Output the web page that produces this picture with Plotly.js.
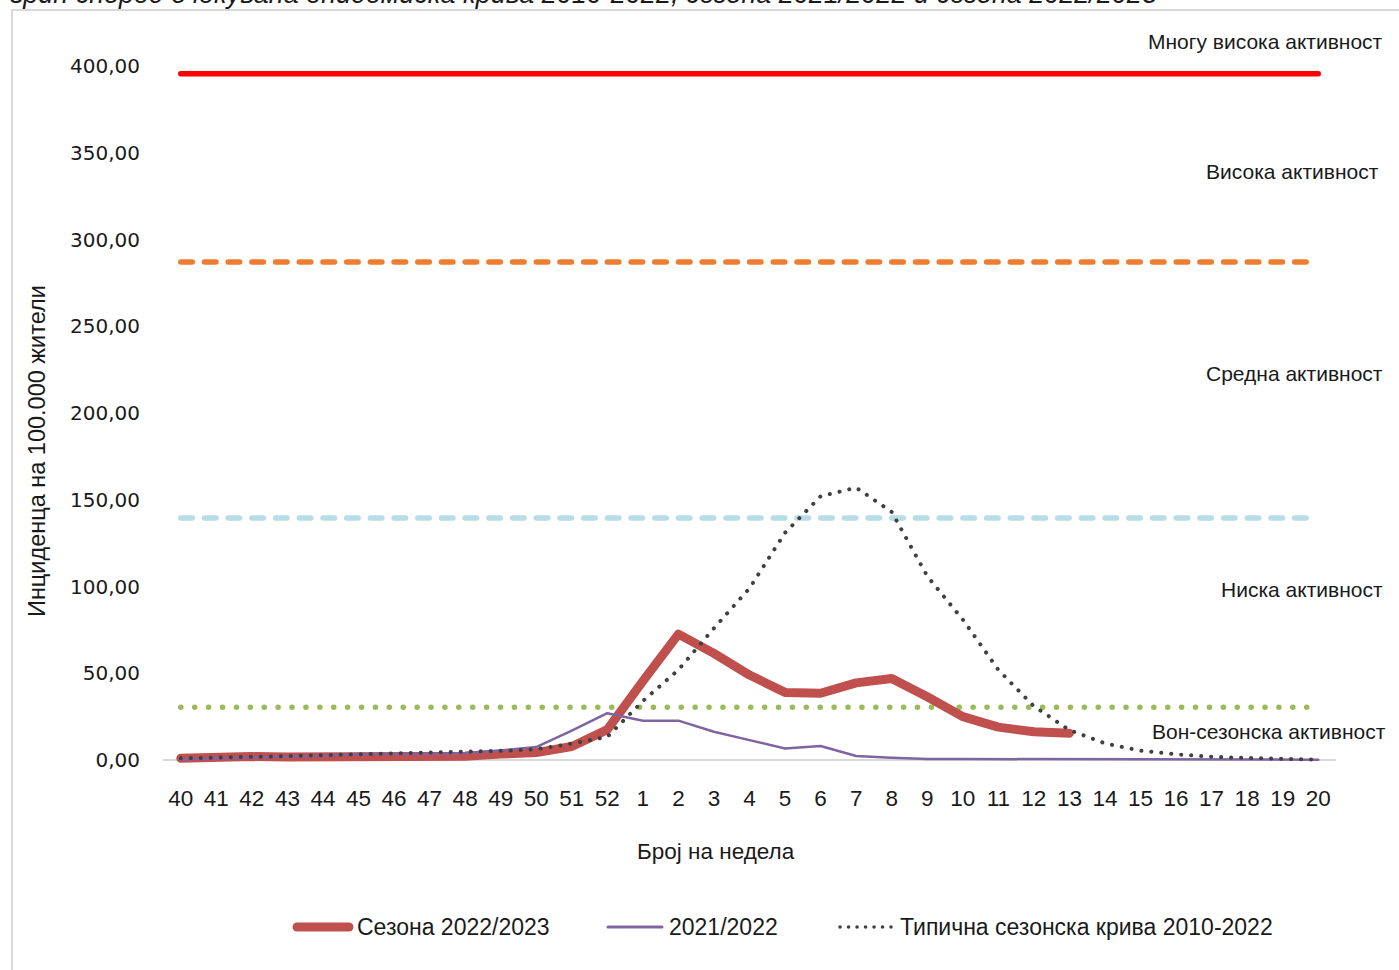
<!DOCTYPE html>
<html>
<head>
<meta charset="utf-8">
<script src="https://cdn.plot.ly/plotly-3.0.1.min.js"></script>
<style>
html,body{margin:0;padding:0;background:#fff;}
#chart{width:1399px;height:970px;}
#chart path.js-line{stroke-linecap:round;stroke-linejoin:round;}
#chart .shapelayer path{stroke-linecap:round;}
</style>
</head>
<body>
<div id="chart"></div>
<script>
// ---------- data ----------
var weeks = ['40','41','42','43','44','45','46','47','48','49','50','51','52',
             '1','2','3','4','5','6','7','8','9','10','11','12','13','14','15','16','17','18','19','20'];
var weeksSeason = weeks.slice(0, 26); // 40 .. 13
var season2223 = [1.0,2.0,2.0,1.8,1.8,1.8,1.5,1.5,2.2,3.5,4.3,7.8,17.5,
                  45.5,72.6,61.5,49.0,39.0,38.5,44.5,47.0,36.5,25.0,19.0,16.3,15.5];
var season2122 = [0.5,1.0,1.5,2.0,2.5,3.5,3.5,3.5,4.0,5.5,7.5,17.0,27.0,
                  22.7,22.7,16.3,11.5,6.7,8.1,2.3,1.4,0.6,0.6,0.6,0.6,0.2,0.2,0.2,0.2,0.2,0.2,0.2,0.2];
var typical = [1.0,1.3,1.8,2.3,2.8,3.3,3.6,4.0,4.6,5.3,6.2,9.5,13.4,
               34,52,76,99,131,152,157,143,106,81,52,31,17.3,9.6,5.4,3.3,1.9,1.2,0.6,0.2];
var thresholdVeryHigh = 395.5;
var thresholdHigh = 287;
var thresholdMedium = 139.5;
var thresholdLow = 30.5;
var levelLabels = ['Многу висока активност','Висока активност','Средна активност','Ниска активност','Вон-сезонска активност'];
var seriesNames = ['Сезона 2022/2023','2021/2022','Типична сезонска крива 2010-2022'];
var yTicks = [0,50,100,150,200,250,300,350,400];

function constant(v){ return weeks.map(function(){ return v; }); }

// ---------- pixel helpers for paper coords ----------
var L = 163, R = 63, T = 66, B = 203, Wd = 1399, Ht = 970;
var PW = Wd - L - R, PH = Ht - T - B;
function PX(x){ return (x - L) / PW; }
function PY(y){ return (Ht - B - y) / PH; }

var sans = 'Liberation Sans, Arial, sans-serif';
var txtCol = '#1a1a1a';

var traces = [
  {x: weeks, y: constant(thresholdLow), type:'scatter', mode:'lines', showlegend:false, hoverinfo:'skip',
   line:{color:'#9BBB59', width:5.5, dash:'0.1px,13.8px'}},
  {x: weeks, y: constant(thresholdMedium), type:'scatter', mode:'lines', showlegend:false, hoverinfo:'skip',
   line:{color:'#B7DDE8', width:5.5, dash:'11.5px,12.2px'}},
  {x: weeks, y: constant(thresholdHigh), type:'scatter', mode:'lines', showlegend:false, hoverinfo:'skip',
   line:{color:'#ED7D31', width:5.5, dash:'11.5px,12.2px'}},
  {x: weeks, y: constant(thresholdVeryHigh), type:'scatter', mode:'lines', showlegend:false, hoverinfo:'skip',
   line:{color:'#FF0000', width:5.5}},
  {x: weeksSeason, y: season2223, name: seriesNames[0], type:'scatter', mode:'lines', showlegend:false,
   line:{color:'#C0504D', width:9}},
  {x: weeks, y: season2122, name: seriesNames[1], type:'scatter', mode:'lines', showlegend:false,
   line:{color:'#8064A2', width:2.5}},
  {x: weeks, y: typical, name: seriesNames[2], type:'scatter', mode:'lines', showlegend:false,
   line:{color:'#404040', width:4, dash:'0.1px,9.9px'}}
];

var shapes = [
  // outer chart border
  {type:'rect', xref:'paper', yref:'paper', x0:PX(12), x1:PX(1420), y0:PY(10), y1:PY(990),
   line:{color:'#d9d9d9', width:2}, fillcolor:'rgba(0,0,0,0)', layer:'below'},
  // baseline
  {type:'line', xref:'x', yref:'y', x0:-0.5, x1:32.5, y0:0, y1:0,
   line:{color:'#d9d9d9', width:2}, layer:'below'},
  // legend samples
  {type:'line', xref:'paper', yref:'paper', x0:PX(297), x1:PX(349), y0:PY(927), y1:PY(927),
   line:{color:'#C0504D', width:9}},
  {type:'line', xref:'paper', yref:'paper', x0:PX(608), x1:PX(662), y0:PY(927), y1:PY(927),
   line:{color:'#8064A2', width:3}},
  {type:'line', xref:'paper', yref:'paper', x0:PX(840), x1:PX(891), y0:PY(927), y1:PY(927),
   line:{color:'#404040', width:3.5, dash:'0.1px,8.4px'}}
];

function ann(text, x, y, xanchor, size, extra){
  var a = {text:text, xref:'paper', yref:'paper', x:PX(x), y:PY(y), xanchor:xanchor, yanchor:'middle',
           showarrow:false, font:{family:sans, size:size, color:txtCol}};
  if (extra) for (var k in extra) a[k] = extra[k];
  return a;
}

var annotations = [
  ann(levelLabels[0], 1385, 41, 'right', 21),
  ann(levelLabels[1], 1381, 171, 'right', 21),
  ann(levelLabels[2], 1385, 374, 'right', 21),
  ann(levelLabels[3], 1385, 589, 'right', 21),
  ann(levelLabels[4], 1388, 731, 'right', 21),
  ann(seriesNames[0], 355, 927, 'left', 23),
  ann(seriesNames[1], 667, 927, 'left', 23),
  ann(seriesNames[2], 898, 927, 'left', 23),
  ann('Број на недела', 716, 851, 'center', 22.5),
  ann('Инциденца на 100.000 жители', 37, 451, 'center', 23.5, {textangle:-90}),
  ann('<i>грип според очекувана епидемиска крива 2010-2022, сезона 2021/2022 и сезона 2022/2023</i>', 8, -6, 'left', 27)
];

var layout = {
  width: Wd, height: Ht,
  margin: {l:L, r:R, t:T, b:B, pad:0},
  paper_bgcolor:'#ffffff', plot_bgcolor:'#ffffff',
  separators: ',.',
  showlegend: false,
  xaxis: {type:'category', range:[-0.5, 32.5], showgrid:false, showline:false, zeroline:false,
          ticks:'', tickfont:{family:sans, size:22.5, color:txtCol}, ticklabelstandoff:15, fixedrange:true},
  yaxis: {range:[-4, 400], tickvals:yTicks, tickformat:'.2f', showgrid:false, showline:false, zeroline:false,
          ticks:'', tickfont:{family:'DejaVu Sans, Verdana, sans-serif', size:20, color:txtCol},
          ticklabelstandoff:22, fixedrange:true},
  shapes: shapes,
  annotations: annotations
};

Plotly.newPlot('chart', traces, layout, {displayModeBar:false, staticPlot:true});
</script>
</body>
</html>
